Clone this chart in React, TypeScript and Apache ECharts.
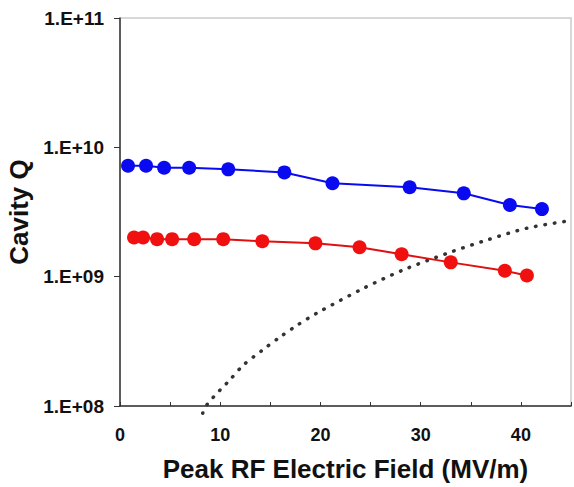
import React, { useEffect, useRef } from "react";
import * as echarts from "echarts";

const xTicks = [0, 10, 20, 30, 40];
const yTicks = [1e8, 1e9, 1e10, 1e11];

const blueField = [0.8, 2.6, 4.4, 6.9, 10.8, 16.4, 21.2, 28.9, 34.3, 38.9, 42.1];
const blueQ = [7.2e9, 7.2e9, 6.95e9, 6.95e9, 6.76e9, 6.4e9, 5.27e9, 4.91e9, 4.41e9, 3.58e9, 3.33e9];

const redField = [1.4, 2.3, 3.7, 5.2, 7.4, 10.3, 14.2, 19.5, 23.9, 28.1, 33.0, 38.4, 40.6];
const redQ = [2.01e9, 2.01e9, 1.95e9, 1.95e9, 1.95e9, 1.95e9, 1.88e9, 1.81e9, 1.69e9, 1.49e9, 1.29e9, 1.11e9, 1.02e9];

const limitField = [8.25, 8.7, 9.4, 10.15, 10.9, 12.3, 14.2, 16.0, 17.7, 19.6, 24.3, 28.3, 32.6, 36.6, 40.6, 44.9];
const limitQ = [8.8e7, 1.03e8, 1.19e8, 1.37e8, 1.57e8, 2.07e8, 2.7e8, 3.43e8, 4.22e8, 5.2e8, 8.13e8, 1.13e9, 1.51e9, 1.92e9, 2.37e9, 2.71e9];

const pairs = (xs: number[], ys: number[]) => xs.map((x, i) => [x, ys[i]]);

const FONT = "'Liberation Sans', Arial, sans-serif";

export default function App() {
  const ref = useRef<HTMLDivElement>(null);
  useEffect(() => {
    if (!ref.current) return;
    const chart = echarts.init(ref.current, null, { renderer: "svg" });
    chart.setOption({
      animation: false,
      backgroundColor: "#ffffff",
      grid: {
        left: 120,
        top: 18,
        right: 3,
        bottom: 81,
        containLabel: false,
        outerBoundsMode: "none",
        show: true,
        borderColor: "#cccccc",
        borderWidth: 1.5,
      },
      xAxis: {
        type: "value",
        min: 0,
        max: 45,
        interval: 5,
        name: "Peak RF Electric Field (MV/m)",
        nameLocation: "middle",
        nameGap: 50,
        nameTextStyle: { fontFamily: FONT, fontWeight: "bold", fontSize: 26, color: "#111" },
        axisLine: { show: true, lineStyle: { color: "#333", width: 1.5 } },
        axisTick: { show: true, inside: true, length: 4, lineStyle: { color: "#333" } },
        axisLabel: {
          fontFamily: FONT,
          fontWeight: "bold",
          fontSize: 18,
          color: "#111",
          margin: 20,
          formatter: (v: number) => (xTicks.includes(v) ? String(v) : ""),
        },
        splitLine: { show: false },
      },
      yAxis: {
        type: "log",
        logBase: 10,
        min: yTicks[0],
        max: yTicks[yTicks.length - 1],
        name: "Cavity Q",
        nameLocation: "middle",
        nameGap: 85,
        nameTextStyle: {
          fontFamily: FONT,
          fontWeight: "bold",
          fontSize: 26,
          color: "#111",
        },
        axisLine: { show: true, lineStyle: { color: "#333", width: 1.5 } },
        axisTick: { show: true, inside: false, length: 6, lineStyle: { color: "#333" } },
        axisLabel: {
          fontFamily: FONT,
          fontWeight: "bold",
          fontSize: 19,
          color: "#111",
          margin: 16,
          formatter: (v: number) => {
            const e = Math.round(Math.log10(v));
            return "1.E+" + (e < 10 ? "0" + e : String(e));
          },
        },
        splitLine: { show: false },
      },
      series: [
        {
          type: "line",
          data: pairs(limitField, limitQ),
          showSymbol: false,
          symbol: "none",
          smooth: 0.3,
          clip: false,
          lineStyle: { color: "#333", width: 3.5, type: [0.5, 9], cap: "round" },
          z: 1,
        },
        {
          type: "line",
          data: pairs(blueField, blueQ),
          symbol: "circle",
          symbolSize: 14,
          itemStyle: { color: "#0a0af0" },
          lineStyle: { color: "#0a0af0", width: 2 },
          z: 3,
        },
        {
          type: "line",
          data: pairs(redField, redQ),
          symbol: "circle",
          symbolSize: 14,
          itemStyle: { color: "#f01010" },
          lineStyle: { color: "#e01010", width: 2 },
          z: 3,
        },
      ],
    });
    return () => chart.dispose();
  }, []);
  return (
    <div
      ref={ref}
      style={{ position: "fixed", left: 0, top: 0, width: 574, height: 487 }}
    />
  );
}
